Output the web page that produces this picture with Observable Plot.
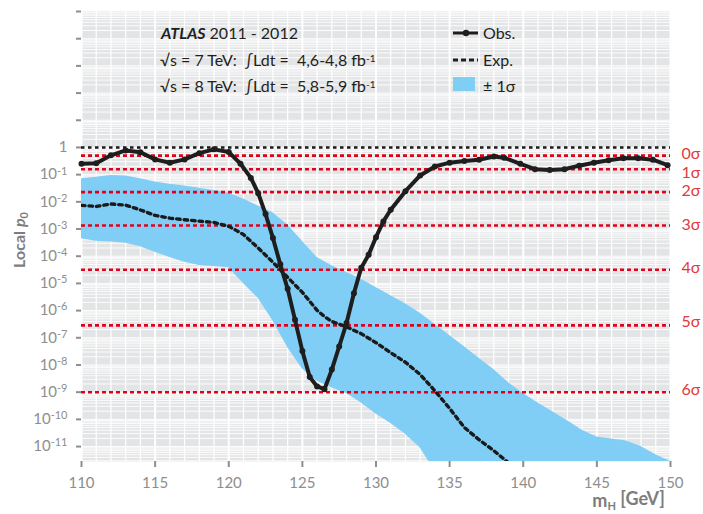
<!DOCTYPE html>
<html><head><meta charset="utf-8">
<script src="https://cdn.jsdelivr.net/npm/d3@7"></script>
<script src="https://cdn.jsdelivr.net/npm/@observablehq/plot@0.6"></script>
<style>
body{margin:0;background:#fff;}
#chart{width:703px;height:514px;}
</style></head><body><div id="chart"></div>
<script>
// Observed local p0 (log10 values)
const obsMass = [110,111,112,113,114,115,116,117,118,119,120,120.8,121.5,122,122.5,123,123.5,124,124.5,125,125.5,126,126.5,127,127.5,128,128.5,129,129.5,130,130.5,131,132,133,134,135,136,137,138,138.7,139.8,140.8,141.8,142.8,143.8,144.8,145.8,146.8,147.8,148.8,149.8];
const obsLog = [-0.60,-0.58,-0.29,-0.11,-0.18,-0.44,-0.56,-0.44,-0.21,-0.07,-0.17,-0.60,-1.12,-1.68,-2.45,-3.33,-4.30,-5.20,-6.34,-7.49,-8.44,-8.79,-8.89,-8.17,-7.32,-6.46,-5.36,-4.42,-3.95,-3.30,-2.72,-2.29,-1.61,-1.03,-0.70,-0.56,-0.50,-0.45,-0.33,-0.38,-0.60,-0.80,-0.83,-0.80,-0.67,-0.56,-0.47,-0.40,-0.40,-0.45,-0.65];
// Expected local p0 (log10 values)
const expMass = [110,111,112,113,114,115,116,117,118,119,120,120.5,121,121.5,122,123,124,125,125.5,126,126.5,127,128,129,130,131,132,133,134,135,136,137,138,139,140];
const expLog = [-2.13,-2.17,-2.08,-2.12,-2.30,-2.50,-2.60,-2.66,-2.71,-2.76,-2.90,-3.05,-3.20,-3.45,-3.70,-4.22,-4.78,-5.33,-5.66,-5.99,-6.22,-6.40,-6.60,-6.85,-7.18,-7.55,-7.90,-8.35,-8.95,-9.60,-10.30,-10.75,-11.15,-11.60,-12.10];
// ±1σ band (log10 values)
const bandMass = [110,111,112,113,114,115,116,117,118,119,120,121,122,123,124,125,126,127,128,129,130,131,132,133,134,135,136,137,138,139,140,141,142,143,144,145,146,147,148,149,150];
const bandHiLog = [-1.15,-1.10,-1.03,-1.05,-1.15,-1.27,-1.35,-1.42,-1.50,-1.58,-1.68,-1.90,-2.15,-2.40,-2.85,-3.45,-4.05,-4.35,-4.60,-4.85,-5.15,-5.45,-5.75,-6.10,-6.50,-6.92,-7.33,-7.75,-8.17,-8.65,-9.05,-9.40,-9.72,-10.05,-10.40,-10.65,-10.72,-10.80,-11.00,-11.30,-11.55];
const bandLoLog = [-3.36,-3.45,-3.48,-3.52,-3.65,-3.85,-4.05,-4.22,-4.34,-4.38,-4.42,-5.00,-5.55,-6.38,-7.36,-8.15,-8.60,-8.84,-9.05,-9.40,-9.80,-10.15,-10.55,-11.05,-11.90,-12.60,-13.20,-13.60,-14.00,-14.30,-14.60,-14.80,-15.00,-15.20,-15.40,-15.50,-15.60,-15.80,-16.00,-16.20,-16.40];
// significance reference lines
const sigmaLabels = ["0σ","1σ","2σ","3σ","4σ","5σ","6σ"];
const sigmaP = [0.5, 0.1587, 0.02275, 1.35e-3, 3.17e-5, 2.87e-7, 9.87e-10];
const sigmaDy = [-2, 4, -1, -1, -2, -3, -2];
// ticks
const xTicks = [110,115,120,125,130,135,140,145,150];
const yTickExp = [-11,-10,-9,-8,-7,-6,-5,-4,-3,-2,-1,0,1,2,3,4,5];

const obs = obsMass.map((m,i)=>({m, p: 10**obsLog[i]}));
const exp = expMass.map((m,i)=>({m, p: 10**expLog[i]}));
const band = bandMass.map((m,i)=>({m, hi: 10**bandHiLog[i], lo: 10**bandLoLog[i]}));
const sigma = sigmaLabels.map((label,i)=>({label, p: sigmaP[i], dy: sigmaDy[i]}));

const gridX = d3.range(110, 151);
const gridY = [];
for (let k = -12; k <= 4; k++) for (let j = 1; j <= 9; j++) gridY.push(j * 10**k);

const axisColor = "#8e8e8e";
const plot = Plot.plot({
  width: 703, height: 514,
  marginLeft: 81, marginRight: 33, marginTop: 11, marginBottom: 53,
  style: {fontFamily: "Lato, sans-serif", background: "transparent", overflow: "visible"},
  x: {domain: [110, 150]},
  y: {type: "log", domain: [10**-11.55, 1e5]},
  marks: [
    Plot.frame({fill: "#e3e4e6", stroke: null}),
    Plot.ruleY(gridY, {stroke: "#fff", strokeWidth: 0.9}),
    Plot.ruleX(gridX, {stroke: "#fff", strokeWidth: d => d % 5 === 0 ? 2 : 1.2}),
    Plot.areaY(band, {x: "m", y1: "lo", y2: "hi", fill: "#80cef5", clip: true}),
    Plot.ruleY([1], {stroke: "#1a1a1a", strokeWidth: 2.5, strokeDasharray: "3.5,3.5"}),
    Plot.ruleY(sigma, {y: "p", stroke: "#e3001b", strokeWidth: 2.6, strokeDasharray: "4,3"}),
    Plot.line(exp, {x: "m", y: "p", stroke: "#1a1a1a", strokeWidth: 3.4, strokeDasharray: "3.5,4", clip: true}),
    Plot.line(obs, {x: "m", y: "p", stroke: "#1e1e1e", strokeWidth: 4, strokeLinejoin: "round"}),
    Plot.dot(obs, {x: "m", y: "p", r: 3, fill: "#1e1e1e"}),
    ...sigma.map(s => Plot.text([s], {x: () => 150, y: "p", text: "label", dx: 11, dy: s.dy, textAnchor: "start", fill: "#e23a3a", fontSize: 16})),
    Plot.axisX({ticks: xTicks, tickSize: 6, tickPadding: 10, color: axisColor, strokeWidth: 2, fontSize: 15, label: null, tickFormat: d => String(d)}),
    Plot.axisY({ticks: yTickExp.map(k => 10**k), tickSize: 5, tickPadding: 9, color: axisColor, strokeWidth: 2, fontSize: 15, label: null,
      tickFormat: d => { const k = Math.round(Math.log10(d)); return k > 0 ? "" : k === 0 ? "1" : "10^" + k; }})
  ]
});

document.getElementById("chart").appendChild(plot);
const svg = d3.select(plot);

// superscript exponents on y tick labels
svg.selectAll('g[aria-label="y-axis tick label"] text').each(function() {
  const t = this.textContent;
  if (t.includes("^")) {
    const [base, e] = t.split("^");
    const sel = d3.select(this);
    sel.text(null);
    sel.append("tspan").text(base);
    sel.append("tspan").attr("dy", "-0.45em").attr("font-size", "11px").text(e);
  }
});

const ink = "#231f20";
const g = svg.append("g").attr("font-family", "Lato, sans-serif").attr("fill", ink)
  .attr("font-size", 16).attr("text-anchor", "start");
const t1 = g.append("text").attr("x", 161).attr("y", 39);
t1.append("tspan").attr("font-weight", "bold").attr("font-style", "italic").text("ATLAS");
t1.append("tspan").text(" 2011 - 2012");
function lumiLine(y, s, lumi) {
  const t = g.append("text").attr("x", 160).attr("y", y);
  t.append("tspan").text("√s = " + s + " TeV:  ∫Ldt =  " + lumi + " fb");
  t.append("tspan").attr("dy", "-0.45em").attr("font-size", "10px").text("-1");
}
lumiLine(66, "7", "4,6-4,8");
lumiLine(92, "8", "5,8-5,9");

// legend
g.append("line").attr("x1", 453).attr("x2", 478).attr("y1", 33).attr("y2", 33).attr("stroke", "#1e1e1e").attr("stroke-width", 3);
g.append("circle").attr("cx", 466).attr("cy", 33).attr("r", 3.2).attr("fill", "#1e1e1e");
g.append("text").attr("x", 483).attr("y", 39).text("Obs.");
g.append("line").attr("x1", 453).attr("x2", 478).attr("y1", 60).attr("y2", 60).attr("stroke", "#1e1e1e").attr("stroke-width", 3).attr("stroke-dasharray", "5,3");
g.append("text").attr("x", 483).attr("y", 66).text("Exp.");
g.append("rect").attr("x", 453).attr("y", 77).attr("width", 22).attr("height", 14).attr("fill", "#7fcff5");
g.append("text").attr("x", 483).attr("y", 92).text("± 1σ");

// axis titles
const yl = svg.append("text").attr("transform", "translate(25,240) rotate(-90)").attr("text-anchor", "middle")
  .attr("font-family", "Lato, sans-serif").attr("font-weight", "bold").attr("font-size", 16).attr("fill", "#7d7d7d");
yl.append("tspan").text("Local ");
yl.append("tspan").attr("font-style", "italic").text("p");
yl.append("tspan").attr("dy", "0.3em").attr("font-size", "11px").text("0");

const xl = svg.append("text").attr("x", 665).attr("y", 507).attr("text-anchor", "end")
  .attr("font-family", "Lato, sans-serif").attr("font-weight", "bold").attr("font-size", 18).attr("fill", "#7d7d7d");
xl.append("tspan").text("m");
xl.append("tspan").attr("dy", "0.3em").attr("font-size", "11px").text("H");
xl.append("tspan").attr("dy", "-0.3em").text(" [GeV]");
</script></body></html>
